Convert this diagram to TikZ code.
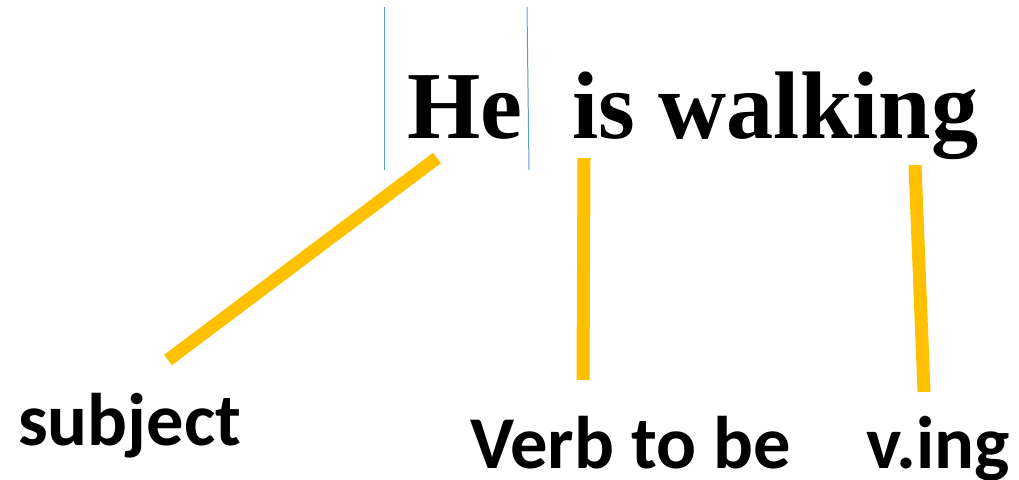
\documentclass[tikz,border=0pt]{standalone}
\usepackage{fontspec}
\setmainfont{Liberation Serif}
\newfontfamily\lblfont{Carlito}
\definecolor{gold}{HTML}{FFC000}
\definecolor{guide}{HTML}{5B9BD5}
\begin{document}
\begin{tikzpicture}[x=1pt,y=-1pt,
  word/.style={inner sep=0pt, anchor=base west, xscale=0.982, font=\fontsize{96}{100}\selectfont\bfseries},
  lbl/.style={inner sep=0pt, anchor=base west, font=\lblfont\fontsize{74.5}{80}\selectfont\bfseries},
  goldline/.style={draw=gold, line width=13pt},
  guideline/.style={draw=guide, line width=1pt}]
\useasboundingbox (0,0) rectangle (1019,479);
\node[word] (he) at (407,138) {He};
\node[word] (walk) at (572,138) {is walking};
\node[lbl] (subj) at (18,445) {subject};
\node[lbl] (verb) at (470,468) {Verb to be};
\node[lbl] (ving) at (866,468) {v.ing};
\coordinate (g1a) at (384,7);
\coordinate (g1b) at (384,170);
\coordinate (g2a) at (527,7);
\coordinate (g2b) at (529,170);
\draw[guideline] (g1a) -- (g1b);
\draw[guideline] (g2a) -- (g2b);
\coordinate (s1) at (437,158);
\coordinate (s2) at (168,360);
\coordinate (v1) at (584,158);
\coordinate (v2) at (583,380);
\coordinate (n1) at (915,165);
\coordinate (n2) at (924,392);
\draw[goldline] (s1) -- (s2);
\draw[goldline] (v1) -- (v2);
\draw[goldline] (n1) -- (n2);
\end{tikzpicture}
\end{document}
